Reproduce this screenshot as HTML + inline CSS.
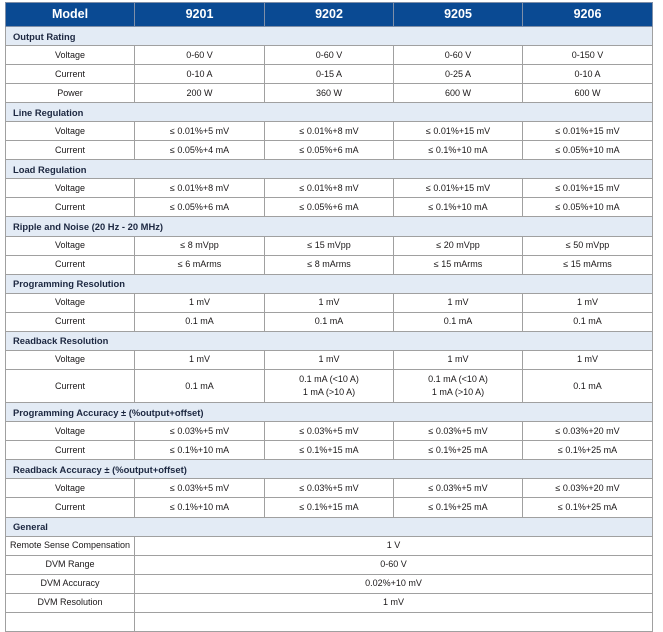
<!DOCTYPE html>
<html><head><meta charset="utf-8"><style>
html,body{margin:0;padding:0;background:#fff;width:663px;height:614px;overflow:hidden}
table{position:absolute;left:5px;top:2px;width:647px;border-collapse:collapse;table-layout:fixed;font-family:"Liberation Sans",sans-serif}
td,th{border:1px solid #a0a0a0;padding:0;text-align:center;vertical-align:middle;font-size:9px;color:#1a1718;line-height:11px;overflow:hidden;white-space:nowrap}
th{background:#0a4a93;color:#fff;font-size:12.5px;font-weight:bold;height:23px;border-color:#7f8fa8}
tr{height:19.05px}
tr.s td{background:#e3ebf5;text-align:left;padding-left:7px;font-weight:bold;font-size:9.4px;color:#1c2740}
tr.d{height:33.4px}
tr.d td{line-height:13px}
</style></head><body>
<table>
<colgroup><col style="width:129px"><col style="width:130px"><col style="width:129px"><col style="width:129px"><col style="width:130px"></colgroup>
<tr style="height:24px"><th>Model</th><th>9201</th><th>9202</th><th>9205</th><th>9206</th></tr>
<tr class="s"><td colspan="5">Output Rating</td></tr>
<tr><td>Voltage</td><td>0-60 V</td><td>0-60 V</td><td>0-60 V</td><td>0-150 V</td></tr>
<tr><td>Current</td><td>0-10 A</td><td>0-15 A</td><td>0-25 A</td><td>0-10 A</td></tr>
<tr><td>Power</td><td>200 W</td><td>360 W</td><td>600 W</td><td>600 W</td></tr>
<tr class="s"><td colspan="5">Line Regulation</td></tr>
<tr><td>Voltage</td><td>≤ 0.01%+5 mV</td><td>≤ 0.01%+8 mV</td><td>≤ 0.01%+15 mV</td><td>≤ 0.01%+15 mV</td></tr>
<tr><td>Current</td><td>≤ 0.05%+4 mA</td><td>≤ 0.05%+6 mA</td><td>≤ 0.1%+10 mA</td><td>≤ 0.05%+10 mA</td></tr>
<tr class="s"><td colspan="5">Load Regulation</td></tr>
<tr><td>Voltage</td><td>≤ 0.01%+8 mV</td><td>≤ 0.01%+8 mV</td><td>≤ 0.01%+15 mV</td><td>≤ 0.01%+15 mV</td></tr>
<tr><td>Current</td><td>≤ 0.05%+6 mA</td><td>≤ 0.05%+6 mA</td><td>≤ 0.1%+10 mA</td><td>≤ 0.05%+10 mA</td></tr>
<tr class="s"><td colspan="5">Ripple and Noise (20 Hz - 20 MHz)</td></tr>
<tr><td>Voltage</td><td>≤ 8 mVpp</td><td>≤ 15 mVpp</td><td>≤ 20 mVpp</td><td>≤ 50 mVpp</td></tr>
<tr><td>Current</td><td>≤ 6 mArms</td><td>≤ 8 mArms</td><td>≤ 15 mArms</td><td>≤ 15 mArms</td></tr>
<tr class="s"><td colspan="5">Programming Resolution</td></tr>
<tr><td>Voltage</td><td>1 mV</td><td>1 mV</td><td>1 mV</td><td>1 mV</td></tr>
<tr><td>Current</td><td>0.1 mA</td><td>0.1 mA</td><td>0.1 mA</td><td>0.1 mA</td></tr>
<tr class="s"><td colspan="5">Readback Resolution</td></tr>
<tr><td>Voltage</td><td>1 mV</td><td>1 mV</td><td>1 mV</td><td>1 mV</td></tr>
<tr class="d"><td>Current</td><td>0.1 mA</td><td>0.1 mA (&lt;10 A)<br>1 mA (&gt;10 A)</td><td>0.1 mA (&lt;10 A)<br>1 mA (&gt;10 A)</td><td>0.1 mA</td></tr>
<tr class="s"><td colspan="5">Programming Accuracy ± (%output+offset)</td></tr>
<tr><td>Voltage</td><td>≤ 0.03%+5 mV</td><td>≤ 0.03%+5 mV</td><td>≤ 0.03%+5 mV</td><td>≤ 0.03%+20 mV</td></tr>
<tr><td>Current</td><td>≤ 0.1%+10 mA</td><td>≤ 0.1%+15 mA</td><td>≤ 0.1%+25 mA</td><td>≤ 0.1%+25 mA</td></tr>
<tr class="s"><td colspan="5">Readback Accuracy ± (%output+offset)</td></tr>
<tr><td>Voltage</td><td>≤ 0.03%+5 mV</td><td>≤ 0.03%+5 mV</td><td>≤ 0.03%+5 mV</td><td>≤ 0.03%+20 mV</td></tr>
<tr><td>Current</td><td>≤ 0.1%+10 mA</td><td>≤ 0.1%+15 mA</td><td>≤ 0.1%+25 mA</td><td>≤ 0.1%+25 mA</td></tr>
<tr class="s"><td colspan="5">General</td></tr>
<tr><td>Remote Sense Compensation</td><td colspan="4">1 V</td></tr>
<tr><td>DVM Range</td><td colspan="4">0-60 V</td></tr>
<tr><td>DVM Accuracy</td><td colspan="4">0.02%+10 mV</td></tr>
<tr><td>DVM Resolution</td><td colspan="4">1 mV</td></tr>
<tr><td>&nbsp;</td><td colspan="4">&nbsp;</td></tr>
</table>
</body></html>
